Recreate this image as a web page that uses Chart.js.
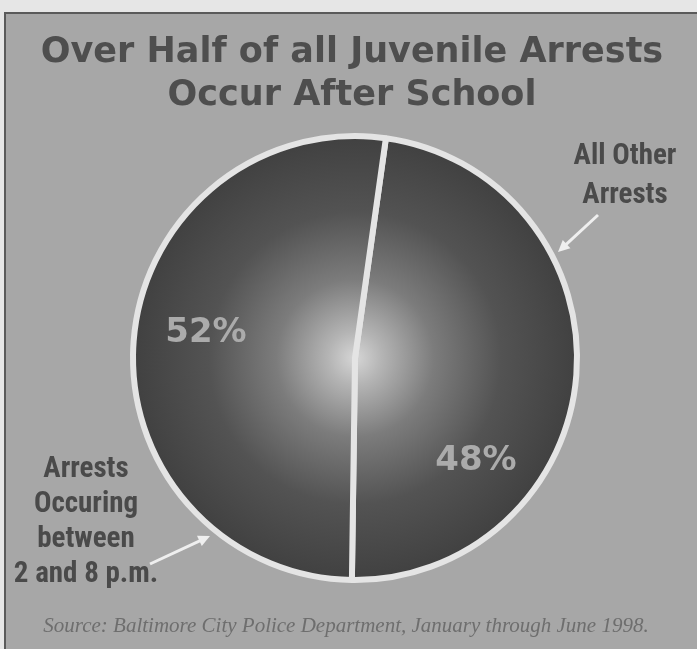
<!DOCTYPE html>
<html>
<head>
<meta charset="utf-8">
<script src="https://cdn.jsdelivr.net/npm/chart.js@4/dist/chart.umd.min.js"></script>
<style>
  html, body { margin: 0; padding: 0; background: #e6e6e6; }
  #wrap { position: relative; width: 697px; height: 649px; }
</style>
</head>
<body>
<div id="wrap"><canvas id="arrestsPie" width="697" height="649"></canvas></div>
<script>
// chart data
const categories = ['All Other Arrests', 'Arrests Occuring between 2 and 8 p.m.'];
const shares = [48, 52];
const shareLabels = ['48%', '52%'];
const titleLines = ['Over Half of all Juvenile Arrests', 'Occur After School'];
const sourceNote = 'Source: Baltimore City Police Department, January through June 1998.';

// radial shading, light in the middle and dark at the rim
function pieShade(context) {
    const chart = context.chart;
    const area = chart.chartArea;
    if (!area) return '#4a4a4a';
    const cx = (area.left + area.right) / 2;
    const cy = (area.top + area.bottom) / 2;
    const r = Math.min(area.right - area.left, area.bottom - area.top) / 2;
    const g = chart.ctx.createRadialGradient(cx, cy, 0, cx, cy, r);
    g.addColorStop(0, '#d6d6d6');
    g.addColorStop(0.12, '#b4b4b4');
    g.addColorStop(0.35, '#7c7c7c');
    g.addColorStop(0.65, '#535353');
    g.addColorStop(1, '#404040');
    return g;
}

function arrow(ctx, x1, y1, x2, y2) {
    const a = Math.atan2(y2 - y1, x2 - x1);
    ctx.beginPath();
    ctx.moveTo(x1, y1);
    ctx.lineTo(x2 - 6 * Math.cos(a), y2 - 6 * Math.sin(a));
    ctx.stroke();
    ctx.beginPath();
    ctx.moveTo(x2, y2);
    ctx.lineTo(x2 - 13 * Math.cos(a - 0.45), y2 - 13 * Math.sin(a - 0.45));
    ctx.lineTo(x2 - 13 * Math.cos(a + 0.45), y2 - 13 * Math.sin(a + 0.45));
    ctx.closePath();
    ctx.fill();
}

// background panel, title, callouts and source line
const decorations = {
    id: 'decorations',
    beforeDraw(chart) {
        const ctx = chart.ctx;
        ctx.save();
        ctx.fillStyle = '#e6e6e6';
        ctx.fillRect(0, 0, chart.width, chart.height);
        ctx.fillStyle = '#a7a7a7';
        ctx.fillRect(4, 12, chart.width - 4, chart.height - 12);
        ctx.strokeStyle = '#5a5a5a';
        ctx.lineWidth = 2;
        ctx.strokeRect(5, 13, chart.width + 4, chart.height + 4);
        ctx.restore();
    },
    afterDraw(chart) {
        const ctx = chart.ctx;
        ctx.save();
        ctx.textAlign = 'center';
        ctx.textBaseline = 'middle';

        ctx.fillStyle = '#4e4e4e';
        ctx.font = 'bold 35px "DejaVu Sans", sans-serif';
        ctx.fillText(titleLines[0], 352, 53);
        ctx.fillText(titleLines[1], 352, 96);

        // percentages on the slices
        const meta = chart.getDatasetMeta(0);
        const pos = [[476, 461], [206, 333]];
        ctx.fillStyle = '#ababab';
        ctx.font = 'bold 34px "DejaVu Sans", sans-serif';
        meta.data.forEach((arc, i) => {
            ctx.fillText(shareLabels[i], pos[i][0], pos[i][1]);
        });

        // callout text
        ctx.fillStyle = '#4a4a4a';
        ctx.font = 'bold 29px "Liberation Sans Narrow", "Roboto Condensed", sans-serif';
        ctx.fillText('All Other', 625, 157);
        ctx.fillText('Arrests', 625, 196);
        ctx.fillText('Arrests', 86, 470);
        ctx.fillText('Occuring', 86, 505);
        ctx.fillText('between', 86, 540);
        ctx.fillText('2 and 8 p.m.', 86, 575);

        ctx.strokeStyle = '#efefef';
        ctx.fillStyle = '#efefef';
        ctx.lineWidth = 3;
        arrow(ctx, 598, 215, 558, 252);
        arrow(ctx, 150, 564, 210, 536);

        ctx.fillStyle = '#6e6e6e';
        ctx.font = 'italic 21px "Liberation Serif", serif';
        ctx.fillText(sourceNote, 346, 626);
        ctx.restore();
    }
};

const ctx = document.getElementById('arrestsPie').getContext('2d');
window.arrestsPie = new Chart(ctx, {
    type: 'pie',
    data: {
        labels: categories,
        datasets: [{
            data: shares,
            backgroundColor: pieShade,
            borderColor: '#e4e4e4',
            borderWidth: 6
        }]
    },
    options: {
        responsive: false,
        animation: false,
        rotation: 8,
        layout: {
            padding: { left: 130, right: 117, top: 133, bottom: 66 }
        },
        plugins: {
            legend: { display: false },
            tooltip: { enabled: false }
        }
    },
    plugins: [decorations]
});
</script>
</body>
</html>
